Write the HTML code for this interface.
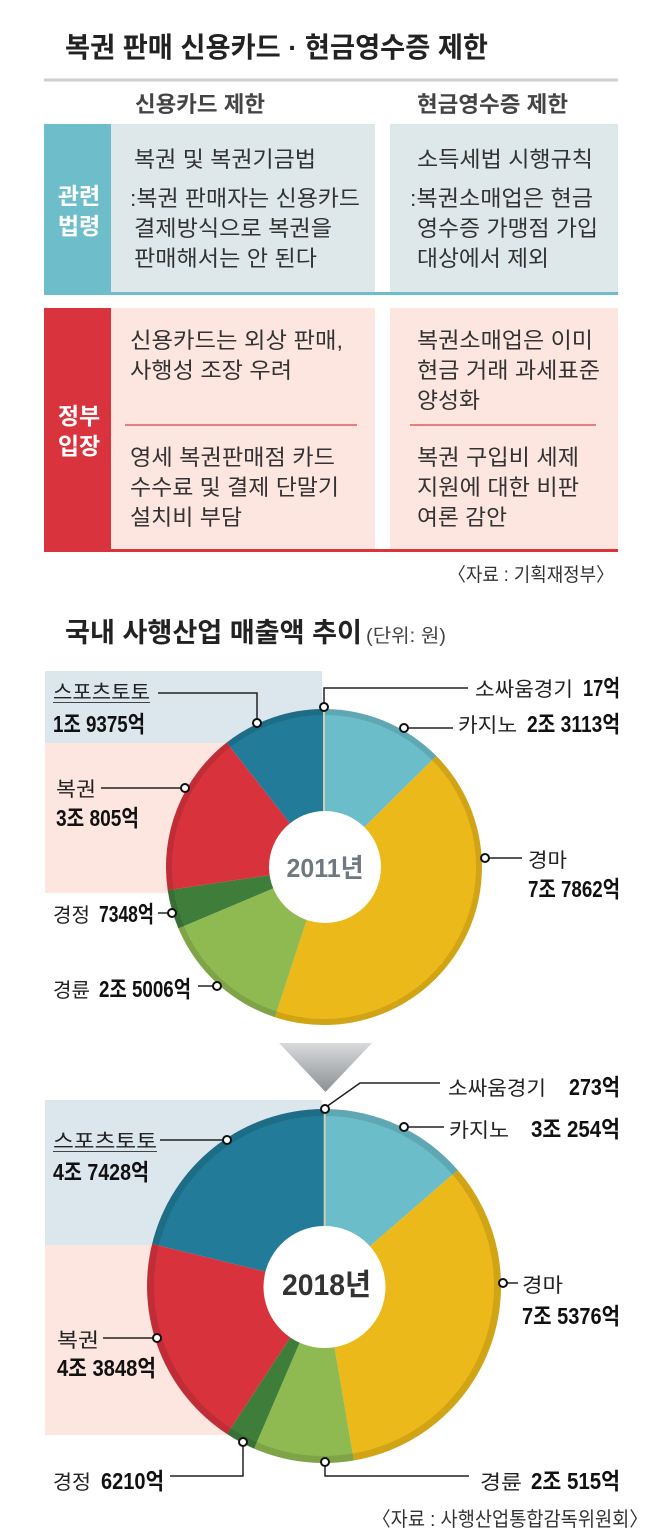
<!DOCTYPE html>
<html>
<head>
<meta charset="utf-8">
<style>
html,body{margin:0;padding:0;background:#fff;}
svg{display:block;}
text{font-family:"Liberation Sans","Noto Sans CJK KR",sans-serif;}
.b{font-weight:bold;}
.tb{font-size:22px;fill:#333;}
.lb{font-size:20px;fill:#222;}
.nb{font-size:23px;font-weight:bold;fill:#111;}
.ld{stroke:#222;stroke-width:1.5;fill:none;}
.dot{fill:#fff;stroke:#111;stroke-width:2;}
</style>
</head>
<body>
<svg width="660" height="1538" viewBox="0 0 660 1538" xmlns="http://www.w3.org/2000/svg">
<defs>
<linearGradient id="ag" x1="0" y1="0" x2="0" y2="1">
<stop offset="0" stop-color="#d8dadc"/>
<stop offset="1" stop-color="#8c9094"/>
</linearGradient>
</defs>
<rect x="0" y="0" width="660" height="1538" fill="#fff"/>

<!-- Title 1 -->
<text x="65" y="57" font-size="28" class="b" fill="#222" textLength="423" lengthAdjust="spacingAndGlyphs">복권 판매 신용카드 · 현금영수증 제한</text>
<rect x="44" y="78.5" width="574" height="3" fill="#cfcfcf"/>

<text x="135" y="112" font-size="22" class="b" fill="#444" textLength="130" lengthAdjust="spacingAndGlyphs">신용카드 제한</text>
<text x="417" y="112" font-size="22" class="b" fill="#444" textLength="151" lengthAdjust="spacingAndGlyphs">현금영수증 제한</text>

<!-- Teal box -->
<rect x="44" y="124" width="67" height="171" fill="#6dbdcb"/>
<rect x="111" y="124" width="264" height="169" fill="#dee8ea"/>
<rect x="390" y="124" width="228" height="169" fill="#dee8ea"/>
<rect x="44" y="292" width="574" height="3" fill="#6dbdcb"/>
<text x="79" y="204" font-size="23" class="b" fill="#fff" text-anchor="middle">관련</text>
<text x="79" y="234" font-size="23" class="b" fill="#fff" text-anchor="middle">법령</text>

<text x="134" y="167" class="tb" textLength="182" lengthAdjust="spacingAndGlyphs">복권 및 복권기금법</text>
<text x="130" y="206" class="tb" textLength="230" lengthAdjust="spacingAndGlyphs">:복권 판매자는 신용카드</text>
<text x="134" y="236" class="tb" textLength="198" lengthAdjust="spacingAndGlyphs">결제방식으로 복권을</text>
<text x="134" y="266" class="tb" textLength="183" lengthAdjust="spacingAndGlyphs">판매해서는 안 된다</text>

<text x="417" y="167" class="tb" textLength="176" lengthAdjust="spacingAndGlyphs">소득세법 시행규칙</text>
<text x="410" y="206" class="tb" textLength="183" lengthAdjust="spacingAndGlyphs">:복권소매업은 현금</text>
<text x="417" y="236" class="tb" textLength="181" lengthAdjust="spacingAndGlyphs">영수증 가맹점 가입</text>
<text x="417" y="266" class="tb" textLength="132" lengthAdjust="spacingAndGlyphs">대상에서 제외</text>

<!-- Red box -->
<rect x="44" y="308" width="67" height="244" fill="#d9333e"/>
<rect x="111" y="308" width="264" height="241" fill="#fde6df"/>
<rect x="390" y="308" width="228" height="241" fill="#fde6df"/>
<rect x="44" y="549" width="574" height="3" fill="#d9333e"/>
<text x="79" y="424" font-size="23" class="b" fill="#fff" text-anchor="middle">정부</text>
<text x="79" y="454" font-size="23" class="b" fill="#fff" text-anchor="middle">입장</text>
<line x1="125" y1="425" x2="357" y2="425" stroke="#e05a5c" stroke-width="1.6"/>
<line x1="410" y1="425" x2="596" y2="425" stroke="#e05a5c" stroke-width="1.6"/>

<text x="130" y="348" class="tb" textLength="213" lengthAdjust="spacingAndGlyphs">신용카드는 외상 판매,</text>
<text x="130" y="378" class="tb" textLength="162" lengthAdjust="spacingAndGlyphs">사행성 조장 우려</text>
<text x="130" y="465" class="tb" textLength="205" lengthAdjust="spacingAndGlyphs">영세 복권판매점 카드</text>
<text x="130" y="495" class="tb" textLength="209" lengthAdjust="spacingAndGlyphs">수수료 및 결제 단말기</text>
<text x="130" y="525" class="tb" textLength="112" lengthAdjust="spacingAndGlyphs">설치비 부담</text>

<text x="417" y="348" class="tb" textLength="176" lengthAdjust="spacingAndGlyphs">복권소매업은 이미</text>
<text x="417" y="378" class="tb" textLength="183" lengthAdjust="spacingAndGlyphs">현금 거래 과세표준</text>
<text x="417" y="408" class="tb" textLength="63" lengthAdjust="spacingAndGlyphs">양성화</text>
<text x="417" y="465" class="tb" textLength="162" lengthAdjust="spacingAndGlyphs">복권 구입비 세제</text>
<text x="417" y="495" class="tb" textLength="162" lengthAdjust="spacingAndGlyphs">지원에 대한 비판</text>
<text x="417" y="525" class="tb" textLength="90" lengthAdjust="spacingAndGlyphs">여론 감안</text>

<text x="448" y="581" font-size="19" fill="#333" textLength="166" lengthAdjust="spacingAndGlyphs">〈자료 : 기획재정부〉</text>

<!-- Title 2 -->
<text x="65" y="642" font-size="27" class="b" fill="#222" textLength="297" lengthAdjust="spacingAndGlyphs">국내 사행산업 매출액 추이</text>
<text x="366" y="642" font-size="19" fill="#444" textLength="80" lengthAdjust="spacingAndGlyphs">(단위: 원)</text>

<!-- Chart 1 backgrounds -->
<rect x="45" y="671" width="277" height="72" fill="#dce6ed"/>
<rect x="45" y="743" width="277" height="150" fill="#fde6df"/>

<!-- Chart 1 pie: center 324,867 R158 -->
<path d="M324,867 L324.09,709 A158,158 0 0 1 436.4,756.0 Z" fill="#6bbdca"/>
<path d="M324,867 L436.4,756.0 A158,158 0 0 1 274.9,1017.2 Z" fill="#ebb919"/>
<path d="M324,867 L274.9,1017.2 A158,158 0 0 1 178.4,928.4 Z" fill="#8fb951"/>
<path d="M324,867 L178.4,928.4 A158,158 0 0 1 167.7,890.2 Z" fill="#3f7d3b"/>
<path d="M324,867 L167.7,890.2 A158,158 0 0 1 226.7,742.5 Z" fill="#d8333d"/>
<path d="M324,867 L226.7,742.5 A158,158 0 0 1 324,709 Z" fill="#227b98"/>
<circle cx="324" cy="867" r="155" fill="none" stroke="rgba(0,0,0,0.11)" stroke-width="6"/>
<line x1="324" y1="709" x2="324" y2="867" stroke="#cfcdb2" stroke-width="2"/>
<circle cx="325" cy="867" r="56" fill="#fff"/>
<text x="325" y="877" font-size="26" class="b" fill="#70787f" text-anchor="middle" textLength="77" lengthAdjust="spacingAndGlyphs">2011년</text>

<!-- Chart 1 labels -->
<text x="53" y="699" class="lb" textLength="97" lengthAdjust="spacingAndGlyphs">스포츠토토</text>
<line x1="53" y1="702.5" x2="150" y2="702.5" stroke="#444" stroke-width="1"/>
<path class="ld" d="M158,693 H257 V719"/>
<circle class="dot" cx="257" cy="723" r="4"/>
<text x="53" y="732" class="nb" textLength="92" lengthAdjust="spacingAndGlyphs">1조 9375억</text>

<text x="56" y="796" class="lb" textLength="40" lengthAdjust="spacingAndGlyphs">복권</text>
<path class="ld" d="M101,788 H181"/>
<circle class="dot" cx="185" cy="788" r="4"/>
<text x="56" y="826" class="nb" textLength="83" lengthAdjust="spacingAndGlyphs">3조 805억</text>

<text x="475" y="696" class="lb" textLength="98" lengthAdjust="spacingAndGlyphs">소싸움경기</text>
<text x="583" y="696" class="nb" textLength="37" lengthAdjust="spacingAndGlyphs">17억</text>
<path class="ld" d="M468,688 H324 V703"/>
<circle class="dot" cx="324" cy="707" r="4"/>

<text x="458" y="732" class="lb" textLength="59" lengthAdjust="spacingAndGlyphs">카지노</text>
<text x="527" y="732" class="nb" textLength="93" lengthAdjust="spacingAndGlyphs">2조 3113억</text>
<path class="ld" d="M408,728 H453"/>
<circle class="dot" cx="404" cy="728" r="4"/>

<text x="528" y="867" class="lb" textLength="39" lengthAdjust="spacingAndGlyphs">경마</text>
<path class="ld" d="M489,858 H522"/>
<circle class="dot" cx="485" cy="858" r="4"/>
<text x="528" y="897" class="nb" textLength="92" lengthAdjust="spacingAndGlyphs">7조 7862억</text>

<text x="53" y="922" class="lb" textLength="37" lengthAdjust="spacingAndGlyphs">경정</text>
<text x="99" y="922" class="nb" textLength="55" lengthAdjust="spacingAndGlyphs">7348억</text>
<path class="ld" d="M158,913 H168"/>
<circle class="dot" cx="172" cy="913" r="4"/>

<text x="53" y="997" class="lb" textLength="37" lengthAdjust="spacingAndGlyphs">경륜</text>
<text x="99" y="997" class="nb" textLength="92" lengthAdjust="spacingAndGlyphs">2조 5006억</text>
<path class="ld" d="M198,986 H213"/>
<circle class="dot" cx="217" cy="986" r="4"/>

<!-- Arrow -->
<polygon points="279,1043 372,1043 325.5,1092" fill="url(#ag)"/>

<!-- Chart 2 backgrounds -->
<rect x="45" y="1100" width="277" height="145" fill="#dce6ed"/>
<rect x="45" y="1245" width="277" height="190" fill="#fde6df"/>

<!-- Chart 2 pie: center 324,1286 R177 -->
<path d="M324,1286 L324,1109 A177,177 0 0 1 325.36,1109.0 Z" fill="#cfcdb2"/>
<path d="M324,1286 L325.36,1109.0 A177,177 0 0 1 457.8,1170.1 Z" fill="#6bbdca"/>
<path d="M324,1286 L457.8,1170.1 A177,177 0 0 1 353.9,1460.5 Z" fill="#ebb919"/>
<path d="M324,1286 L353.9,1460.5 A177,177 0 0 1 254.1,1448.6 Z" fill="#8fb951"/>
<path d="M324,1286 L254.1,1448.6 A177,177 0 0 1 227.0,1434.0 Z" fill="#3f7d3b"/>
<path d="M324,1286 L227.0,1434.0 A177,177 0 0 1 152.1,1243.9 Z" fill="#d8333d"/>
<path d="M324,1286 L152.1,1243.9 A177,177 0 0 1 324,1109 Z" fill="#227b98"/>
<circle cx="324" cy="1286" r="173.5" fill="none" stroke="rgba(0,0,0,0.11)" stroke-width="7"/>
<line x1="324.7" y1="1109" x2="324.7" y2="1286" stroke="#cfcdb2" stroke-width="2"/>
<circle cx="324.5" cy="1287" r="61" fill="#fff"/>
<text x="326.5" y="1295" font-size="30" class="b" fill="#333" text-anchor="middle" textLength="89" lengthAdjust="spacingAndGlyphs">2018년</text>

<!-- Chart 2 labels -->
<text x="448" y="1095" class="lb" textLength="98" lengthAdjust="spacingAndGlyphs">소싸움경기</text>
<text x="569" y="1095" class="nb" textLength="51" lengthAdjust="spacingAndGlyphs">273억</text>
<path class="ld" d="M440,1083 H360 L327.5,1106"/>
<circle class="dot" cx="325" cy="1109" r="4"/>

<text x="449" y="1137" class="lb" textLength="60" lengthAdjust="spacingAndGlyphs">카지노</text>
<text x="531" y="1137" class="nb" textLength="89" lengthAdjust="spacingAndGlyphs">3조 254억</text>
<path class="ld" d="M408,1127 H444"/>
<circle class="dot" cx="404" cy="1127" r="4"/>

<text x="53" y="1148" class="lb" textLength="104" lengthAdjust="spacingAndGlyphs">스포츠토토</text>
<line x1="53" y1="1151.5" x2="157" y2="1151.5" stroke="#444" stroke-width="1"/>
<path class="ld" d="M160,1140 H223"/>
<circle class="dot" cx="227" cy="1140" r="4"/>
<text x="53" y="1180" class="nb" textLength="96" lengthAdjust="spacingAndGlyphs">4조 7428억</text>

<text x="522" y="1292" class="lb" textLength="41" lengthAdjust="spacingAndGlyphs">경마</text>
<path class="ld" d="M507,1283 H518"/>
<circle class="dot" cx="503" cy="1283" r="4"/>
<text x="522" y="1324" class="nb" textLength="98" lengthAdjust="spacingAndGlyphs">7조 5376억</text>

<text x="57" y="1347" class="lb" textLength="42" lengthAdjust="spacingAndGlyphs">복권</text>
<path class="ld" d="M103,1338 H153"/>
<circle class="dot" cx="157" cy="1338" r="4"/>
<text x="57" y="1376" class="nb" textLength="99" lengthAdjust="spacingAndGlyphs">4조 3848억</text>

<text x="53" y="1489" class="lb" textLength="38" lengthAdjust="spacingAndGlyphs">경정</text>
<text x="101" y="1489" class="nb" textLength="63" lengthAdjust="spacingAndGlyphs">6210억</text>
<path class="ld" d="M170,1476 H243 V1446"/>
<circle class="dot" cx="243" cy="1442" r="4"/>

<text x="480" y="1489" class="lb" textLength="42" lengthAdjust="spacingAndGlyphs">경륜</text>
<text x="531" y="1489" class="nb" textLength="89" lengthAdjust="spacingAndGlyphs">2조 515억</text>
<path class="ld" d="M325,1466 V1476 H469"/>
<circle class="dot" cx="325" cy="1462" r="4"/>

<text x="372" y="1526" font-size="20" fill="#333" textLength="276" lengthAdjust="spacingAndGlyphs">〈자료 : 사행산업통합감독위원회〉</text>
</svg>
</body>
</html>
